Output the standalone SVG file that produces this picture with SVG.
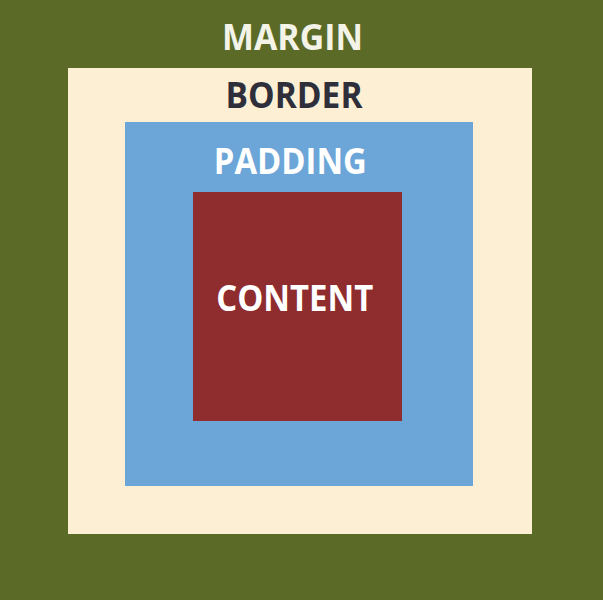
<svg xmlns="http://www.w3.org/2000/svg" width="603" height="600" viewBox="0 0 603 600">
<style>
text{font-family:"Open Sans","Liberation Sans",sans-serif;font-weight:bold;font-size:35px;text-anchor:middle}
</style>
<g id="margin">
<rect x="0" y="0" width="603" height="600" fill="#5b6a27"/>
<text x="292.5" y="50" fill="#f3f3e8" textLength="141" lengthAdjust="spacingAndGlyphs">MARGIN</text>
</g>
<g id="border">
<rect x="68" y="68" width="464" height="466" fill="#fdefd3"/>
<text x="294" y="108.3" fill="#2e2f3a" textLength="137" lengthAdjust="spacingAndGlyphs">BORDER</text>
</g>
<g id="padding">
<rect x="125" y="122" width="348" height="364" fill="#6ca5d7"/>
<text x="290.3" y="173.7" fill="#ffffff" textLength="153" lengthAdjust="spacingAndGlyphs">PADDING</text>
</g>
<g id="content">
<rect x="193" y="192" width="209" height="229" fill="#8f2c2e"/>
<text x="294.7" y="310.7" fill="#ffffff" textLength="157" lengthAdjust="spacingAndGlyphs">CONTENT</text>
</g>
<g id="connectors"/>
</svg>
